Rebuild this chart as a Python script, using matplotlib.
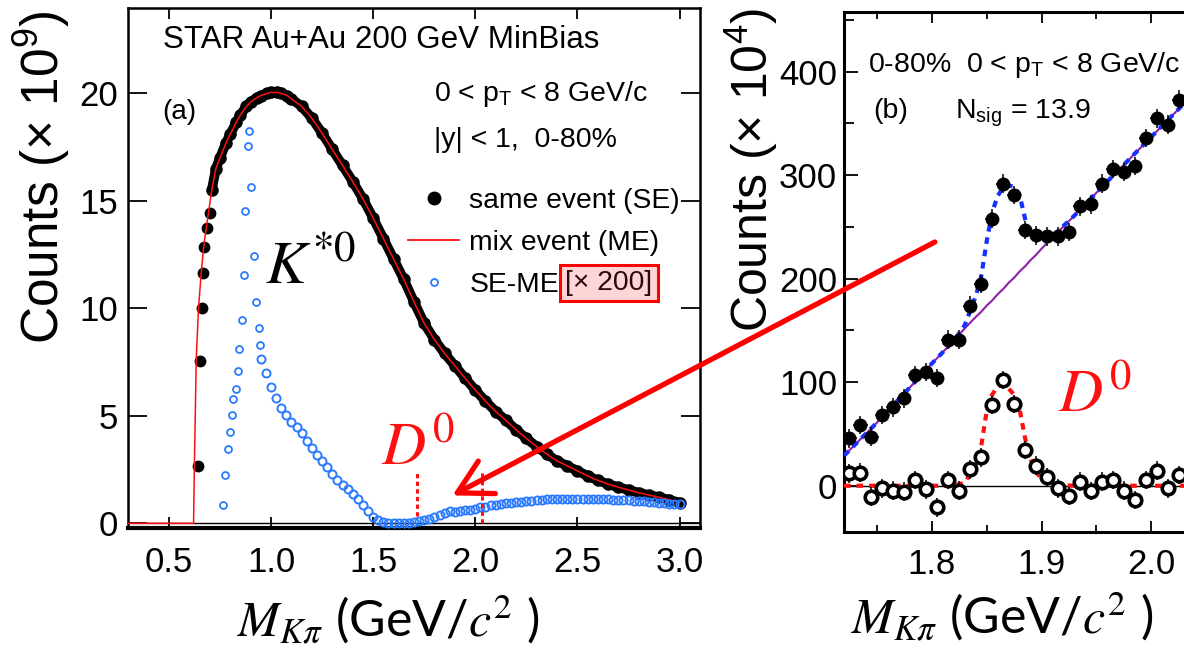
import numpy as np
import matplotlib
matplotlib.use("Agg")
import matplotlib.pyplot as plt
from matplotlib.patches import FancyArrowPatch, ArrowStyle
from matplotlib.lines import Line2D
from matplotlib.ticker import MultipleLocator, FormatStrFormatter

plt.rcParams['font.family'] = ['Liberation Sans', 'DejaVu Sans']
plt.rcParams['mathtext.fontset'] = 'custom'
plt.rcParams['mathtext.rm'] = 'Liberation Sans'
plt.rcParams['mathtext.it'] = 'Liberation Sans:italic'
plt.rcParams['mathtext.bf'] = 'Liberation Sans:bold'

# ---- panel (a): K pi invariant mass, counts x 10^9 ----
rise_mass = [0.642, 0.650, 0.661, 0.666, 0.674, 0.686, 0.699]
rise_counts = [2.68, 7.56, 10.0, 11.63, 12.84, 13.72, 14.42]

se_mass = [0.71, 0.73, 0.75, 0.78, 0.80, 0.83, 0.85, 0.88, 0.90, 0.93, 0.95, 0.98,
           1.00, 1.03, 1.05, 1.08, 1.10, 1.15, 1.20, 1.25, 1.30, 1.35, 1.40, 1.45,
           1.50, 1.55, 1.60, 1.65, 1.70, 1.75, 1.80, 1.85, 1.90, 1.95, 2.00, 2.05,
           2.10, 2.15, 2.20, 2.25, 2.30, 2.35, 2.40, 2.45, 2.50, 2.55, 2.60, 2.65,
           2.70, 2.75, 2.80, 2.85, 2.90, 2.95, 3.00]
se_counts = [15.5, 16.5, 17.0, 17.7, 18.1, 18.65, 19.0, 19.4, 19.6, 19.8, 19.9, 20.0,
             20.05, 20.05, 20.0, 19.9, 19.75, 19.4, 18.85, 18.15, 17.4, 16.65, 15.9, 15.1,
             14.2, 13.25, 12.3, 11.35, 10.3, 9.3, 8.55, 7.9, 7.33, 6.75, 6.2, 5.68,
             5.2, 4.79, 4.35, 3.95, 3.57, 3.22, 2.9, 2.67, 2.44, 2.2, 2.0, 1.82,
             1.68, 1.55, 1.42, 1.31, 1.21, 1.09, 0.96]

me_mass_low = [0.30, 0.621, 0.625, 0.634, 0.645, 0.658, 0.672, 0.690]
me_counts_low = [0.0, 0.0, 2.7, 7.6, 10.0, 11.6, 13.0, 14.2]

diff_mass_low = [0.764, 0.777, 0.788, 0.800, 0.808, 0.813, 0.829, 0.837, 0.845, 0.857,
                 0.866, 0.875, 0.889, 0.894, 0.902, 0.919, 0.927, 0.940, 0.946]
diff_counts_low = [0.85, 2.25, 3.44, 4.23, 5.04, 5.78, 6.23, 7.1, 8.09, 9.46,
                   11.55, 14.54, 17.56, 18.25, 15.63, 12.45, 10.31, 9.07, 8.29]
diff_mass = np.round(np.arange(0.95, 3.0001, 0.025), 3)
diff_counts = [7.65, 6.98, 6.35, 5.81, 5.38, 5.02, 4.72, 4.46, 4.20, 3.85,
               3.50, 3.20, 2.90, 2.60, 2.30, 2.02, 1.80, 1.60, 1.38, 1.12,
               0.85, 0.55, 0.30, 0.15, 0.06, 0.02, 0.00, 0.00, 0.02, 0.03,
               0.06, 0.10, 0.15, 0.22, 0.28, 0.40, 0.50, 0.55, 0.52, 0.56,
               0.60, 0.64, 0.68, 0.74, 0.78, 0.84, 0.87, 0.90, 0.93, 0.96,
               0.98, 1.00, 1.03, 1.05, 1.07, 1.09, 1.11, 1.12, 1.13, 1.13,
               1.14, 1.13, 1.13, 1.13, 1.13, 1.13, 1.12, 1.12, 1.11, 1.10,
               1.09, 1.08, 1.06, 1.05, 1.04, 1.02, 1.00, 0.98, 0.96, 0.94,
               0.92, 0.91, 0.90]

d0_window = [1.713, 2.034]
d0_window_low = [0.35, 0.0]
d0_window_top = 2.4

# ---- panel (b): zoom on D0 region, counts x 10^4 ----
bin_mass = np.round(np.arange(1.725, 2.0301, 0.01), 3)
same_counts = [45.8, 58.6, 47.3, 68.3, 75.7, 84.4, 107, 110, 104, 141, 141, 174, 195,
               258, 292, 281, 247, 242, 241, 241, 245, 270, 272, 292, 306, 303, 309,
               336, 355, 349, 373]
signal_counts = [12, 12.6, -10.6, -2.5, -4.8, -5.8, 5.5, -3.5, -20.9, 5.5, -4.8, 15.8,
                 27.4, 78, 102, 79, 34.5, 19.3, 8.1, -2.5, -10, 3.9, -5.1, 3.9, 5.5,
                 -4.8, -13.8, 5.5, 14.5, -2.5, 10.3]
stat_err = 9.0

fit_mass = [1.72, 1.75, 1.78, 1.80, 1.82, 1.83, 1.84, 1.845, 1.85, 1.855, 1.86, 1.865,
            1.87, 1.875, 1.88, 1.885, 1.89, 1.895, 1.90, 1.91, 1.93, 1.96, 2.00, 2.05, 2.10]
bg_fit = [29, 61, 95, 118, 140, 152, 163, 168, 174, 179, 185, 190,
          196, 201, 207, 212, 218, 223, 229, 240, 261, 294, 337, 391, 444]
sig_fit = [0, 0, 0, 0, 0, 3, 20, 38, 72, 88, 96, 98,
           94, 88, 74, 46, 26, 14, 6, 1, 0, 0, 0, 0, 0]
total_fit = [29, 61, 95, 118, 140, 155, 183, 202, 236, 264, 280, 288,
             290, 289, 281, 258, 244, 237, 235, 241, 261, 294, 337, 391, 444]

W, H = 1184, 652
blue = '#2b7bff'
red = '#ff1010'

fig = plt.figure(figsize=(W / 100, H / 100), dpi=100)
ax1 = fig.add_axes([128 / W, 1 - 528 / H, (700 - 128) / W, (528 - 7.5) / H])
ax2 = fig.add_axes([844 / W, 1 - 531.7 / H, (1261 - 844) / W, (531.7 - 12) / H])

# panel (a)
ax1.axhline(0, color='black', lw=1.0, zorder=1)
ax1.plot(se_mass, se_counts, color='black', lw=7, solid_capstyle='round', zorder=2)
ax1.plot(se_mass, se_counts, 'o', color='black', ms=8, zorder=2)
ax1.plot(rise_mass, rise_counts, 'o', color='black', ms=7.5, zorder=2)
ax1.plot(me_mass_low + se_mass, me_counts_low + se_counts, color=red, lw=1.1, zorder=3)
ax1.plot(diff_mass_low, diff_counts_low, 'o', mfc='none', mec=blue, mew=1.3, ms=5, zorder=4)
ax1.plot(diff_mass, diff_counts, 'o', mfc='none', mec=blue, mew=1.4, ms=5.8, zorder=4)
ax1.vlines(d0_window, d0_window_low, d0_window_top, colors=red, lw=2.2,
           linestyles=(0, (1.4, 1.1)), zorder=5)

ax1.set_xlim(0.3, 3.1)
ax1.set_ylim(-0.22, 24)
ax1.set_xticks([0.5, 1.0, 1.5, 2.0, 2.5, 3.0])
ax1.set_yticks([0, 5, 10, 15, 20])
ax1.xaxis.set_major_formatter(FormatStrFormatter('%.1f'))
ax1.tick_params(axis='both', direction='in', top=True, right=True, labelsize=25,
                width=1.3, colors='black')
ax1.tick_params(axis='x', length=8, pad=13)
ax1.tick_params(axis='y', length=14, pad=7)
for side in ['left', 'top', 'right']:
    ax1.spines[side].set_linewidth(1.8)
ax1.spines['bottom'].set_linewidth(3.0)

ax1.text(0.469, 22.1, 'STAR Au+Au 200 GeV MinBias', fontsize=22.6, va='baseline')
ax1.text(0.469, 18.8, '(a)', fontsize=20, va='baseline')
ax1.text(1.798, 19.66, '0 < p$_\\mathregular{T}$ < 8 GeV/c', fontsize=20.5, va='baseline')
ax1.text(1.798, 17.49, '|y| < 1,  0-80%', fontsize=20.5, va='baseline')

handles = [Line2D([], [], ls='none', marker='o', color='black', ms=9),
           Line2D([], [], color=red, lw=1.3),
           Line2D([], [], ls='none', marker='o', mfc='none', mec=blue, mew=1.3, ms=5)]
ax1.legend(handles, ['same event (SE)', 'mix event (ME)', 'SE-ME'],
           loc='upper left', bbox_to_anchor=(0.49, 0.653), frameon=False,
           fontsize=20.3, handlelength=1.8, handletextpad=0.36, labelspacing=0.56,
           borderpad=0, borderaxespad=0)
ax1.text(2.441, 10.85, '[\u00d7 200]', fontsize=20.3, va='baseline', color='#2a0a0a',
         bbox=dict(boxstyle='square,pad=0.18', facecolor='#fcd6d6', edgecolor='#ff0000', lw=2.2))

ax1.text(0.972, 11.16, '$K^{*0}$', fontsize=44, math_fontfamily='stix', va='baseline')
ax1.text(1.538, 2.71, '$D^{0}$', fontsize=44, math_fontfamily='stix', va='baseline', color=red)

# panel (b)
ax2.axhline(0, color='black', lw=1.0, zorder=1)
ax2.plot(fit_mass, bg_fit, color='#8f1fa8', lw=1.5, zorder=2)
ax2.plot(fit_mass, total_fit, color='#1530ff', lw=3, ls=(0, (1.6, 1.4)), zorder=3)
ax2.plot(fit_mass, sig_fit, color=red, lw=3, ls=(0, (1.6, 1.4)), zorder=3)
ax2.errorbar(bin_mass, same_counts, yerr=stat_err, xerr=0.0065, fmt='o', color='black',
             ms=9, elinewidth=1.1, capsize=0, zorder=4)
ax2.errorbar(bin_mass, signal_counts, yerr=stat_err, xerr=0.0065, fmt='o', color='black',
             mfc='white', mec='black', mew=2.6, ms=9, elinewidth=1.1, capsize=0, zorder=4)

ax2.set_xlim(1.72, 2.10)
ax2.set_ylim(-44.4, 457.7)
ax2.set_xticks([1.8, 1.9, 2.0])
ax2.xaxis.set_minor_locator(MultipleLocator(0.05))
ax2.set_yticks([0, 100, 200, 300, 400])
ax2.yaxis.set_minor_locator(MultipleLocator(50))
ax2.xaxis.set_major_formatter(FormatStrFormatter('%.1f'))
ax2.tick_params(axis='both', which='both', direction='in', top=True, right=True,
                labelsize=25, width=1.3)
ax2.tick_params(axis='x', which='major', length=8, pad=12)
ax2.tick_params(axis='x', which='minor', length=5)
ax2.tick_params(axis='y', which='major', length=10, pad=5)
ax2.tick_params(axis='y', which='minor', length=7)
for side in ['left', 'top', 'right', 'bottom']:
    ax2.spines[side].set_linewidth(2.2)

ax2.text(1.7422, 400, '0-80%  0 < p$_\\mathregular{T}$ < 8 GeV/c', fontsize=20.5, va='baseline')
ax2.text(1.7468, 355, '(b)', fontsize=20.5, va='baseline')
ax2.text(1.8212, 355, 'N$_\\mathregular{sig}$ = 13.9', fontsize=20.5, va='baseline')
ax2.text(1.9154, 71.5, '$D^{0}$', fontsize=44, math_fontfamily='stix', va='baseline', color=red)

# axis titles
ylab = 'Counts (\u00d7 10$^{%s}$)'
fig.text(42 / W, 1 - 177.5 / H, ylab % '9', fontsize=37, rotation=90, ha='center', va='center')
fig.text(751 / W, 1 - 170 / H, ylab % '4', fontsize=36, rotation=90, ha='center', va='center')
xlab = '$M_{K\\pi}$ (GeV/$c^{2}$ )'
fig.text(388 / W, 1 - 636.7 / H, xlab, fontsize=36, family='Lato', math_fontfamily='stix',
         ha='center', va='baseline')
fig.text(1001.7 / W, 1 - 633.3 / H, xlab, fontsize=36, family='Lato', math_fontfamily='stix',
         ha='center', va='baseline')

arrow = FancyArrowPatch((937.3 / W, 1 - 240.7 / H), (450 / W, 1 - 496.7 / H),
                        transform=fig.transFigure, color='#ff0000', lw=3.8,
                        arrowstyle=ArrowStyle('->', head_length=1.0, head_width=0.55),
                        mutation_scale=24, zorder=20)
fig.add_artist(arrow)

fig.savefig('out.png', dpi=100)
